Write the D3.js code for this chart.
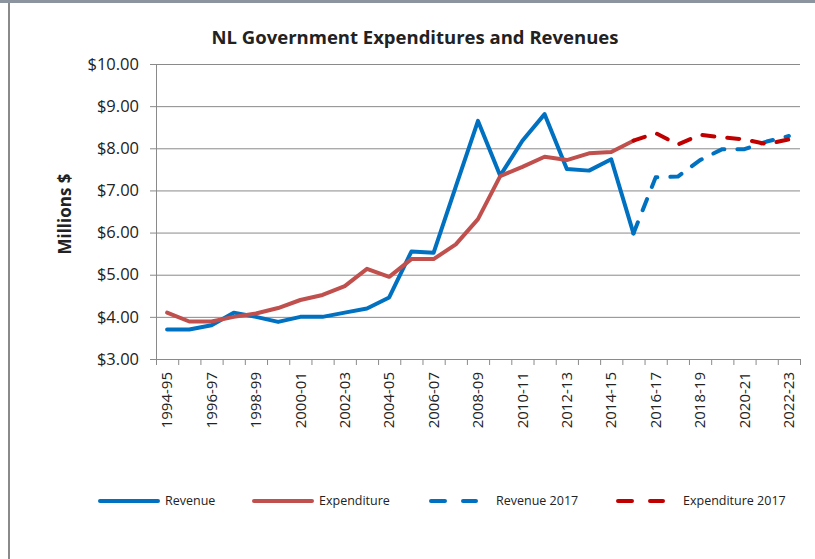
<!DOCTYPE html>
<html>
<head>
<meta charset="utf-8">
<script src="https://cdn.jsdelivr.net/npm/d3@7"></script>
<style>
  body { margin: 0; background: #fff; }
  text { font-family: "Open Sans", "Liberation Sans", sans-serif; fill: #222; }
</style>
</head>
<body>
<div class="canvas"></div>
<script>
// data
const years = ['1994-95', '1995-96', '1996-97', '1997-98', '1998-99', '1999-00', '2000-01', '2001-02',
  '2002-03', '2003-04', '2004-05', '2005-06', '2006-07', '2007-08', '2008-09', '2009-10', '2010-11',
  '2011-12', '2012-13', '2013-14', '2014-15', '2015-16', '2016-17', '2017-18', '2018-19', '2019-20',
  '2020-21', '2021-22', '2022-23'];
const revenue = [3.70, 3.70, 3.80, 4.10, 4.00, 3.88, 4.00, 4.00, 4.10, 4.20, 4.46, 5.55, 5.52, 7.09,
  8.65, 7.35, 8.18, 8.81, 7.51, 7.47, 7.74, 5.98];
const expenditure = [4.10, 3.89, 3.89, 4.00, 4.08, 4.21, 4.40, 4.52, 4.73, 5.14, 4.95, 5.37, 5.37, 5.72,
  6.32, 7.34, 7.56, 7.80, 7.72, 7.88, 7.91, 8.18];
// 2017 forecasts start at 2015-16
const revenue2017 = [5.98, 7.31, 7.33, 7.72, 7.98, 7.98, 8.16, 8.29];
const expenditure2017 = [8.18, 8.36, 8.09, 8.32, 8.26, 8.21, 8.10, 8.21];
const yTicks = [3, 4, 5, 6, 7, 8, 9, 10];

const svgDims = { width: 815, height: 559 };
const plot = { left: 156, right: 800, top: 64, bottom: 359 };

const svg = d3.select('.canvas')
    .append('svg')
    .attr('width', svgDims.width)
    .attr('height', svgDims.height);

// frame bits from the screenshot
svg.append('rect').attr('x', 0).attr('y', 0).attr('width', 815).attr('height', 3).attr('fill', '#8c959f');
svg.append('rect').attr('x', 8).attr('y', 3).attr('width', 2).attr('height', 556).attr('fill', '#8a8a8a');

const x = d3.scaleBand()
    .domain(years)
    .range([plot.left, plot.right]);
const xIdx = d3.scaleLinear()
    .domain([0, years.length])
    .range([plot.left, plot.right]);
const y = d3.scaleLinear()
    .domain([3, 10])
    .range([plot.bottom, plot.top]);
const cx = d => x(d) + x.bandwidth() / 2;

// gridlines + y axis
const yAxisGroup = svg.append('g')
    .attr('transform', `translate(${plot.left}, 0)`)
    .call(d3.axisLeft(y).tickValues(yTicks).tickFormat(d3.format('$.2f')).tickSize(6).tickPadding(11));
yAxisGroup.selectAll('text').style('font-size', '16.5px').attr('fill', '#222');
yAxisGroup.selectAll('line, path').attr('stroke', '#8a8a8a');

svg.append('g')
    .attr('transform', `translate(${plot.left}, 0)`)
    .call(d3.axisLeft(y).tickValues(yTicks.slice(1)).tickFormat('').tickSize(-(plot.right - plot.left)))
    .call(g => g.select('.domain').remove())
    .selectAll('line').attr('stroke', '#8a8a8a');

// x axis: tick marks between categories, labels every second year
const xTickGroup = svg.append('g')
    .attr('transform', `translate(0, ${plot.bottom})`)
    .call(d3.axisBottom(xIdx).tickValues(d3.range(years.length + 1)).tickFormat('').tickSize(6).tickSizeOuter(0));
xTickGroup.selectAll('line, path').attr('stroke', '#8a8a8a');

const xLabelGroup = svg.append('g')
    .attr('transform', `translate(0, ${plot.bottom})`)
    .call(d3.axisBottom(x).tickValues(years.filter((d, i) => i % 2 === 0)).tickSize(0));
xLabelGroup.select('.domain').remove();
xLabelGroup.selectAll('text')
    .style('font-size', '15px')
    .attr('fill', '#222')
    .attr('transform', 'rotate(-90)')
    .attr('text-anchor', 'end')
    .attr('x', -13)
    .attr('y', 0)
    .attr('dy', '0.35em');

// lines
const line = d3.line()
    .x(d => cx(d.year))
    .y(d => y(d.value));
const toPoints = (vals, start) => vals.map((v, i) => ({ year: years[start + i], value: v }));

const series = [
  { name: 'Revenue', data: toPoints(revenue, 0), color: '#0070c0', dash: null },
  { name: 'Expenditure', data: toPoints(expenditure, 0), color: '#c0504d', dash: null },
  { name: 'Revenue 2017', data: toPoints(revenue2017, 21), color: '#0070c0', dash: '12,13' },
  { name: 'Expenditure 2017', data: toPoints(expenditure2017, 21), color: '#c00000', dash: '12,13' }
];

series.forEach(s => {
  svg.append('path')
      .datum(s.data)
      .attr('fill', 'none')
      .attr('stroke', s.color)
      .attr('stroke-width', 4)
      .attr('stroke-linejoin', 'round')
      .attr('stroke-linecap', 'round')
      .attr('stroke-dasharray', s.dash)
      .attr('d', line);
});

// title and axis title
svg.append('text')
    .attr('x', 415).attr('y', 44)
    .attr('text-anchor', 'middle')
    .style('font-size', '18.5px').style('font-weight', 'bold')
    .text('NL Government Expenditures and Revenues');

svg.append('text')
    .attr('transform', 'translate(71, 214) rotate(-90)')
    .attr('text-anchor', 'middle')
    .style('font-size', '17px').style('font-weight', 'bold')
    .text('Millions $');

// legend
const legendX = [98, 252, 429, 616];
const legend = svg.append('g');
series.forEach((s, i) => {
  const g = legend.append('g').attr('transform', `translate(${legendX[i]}, 501)`);
  g.append('line')
      .attr('x1', 2).attr('x2', s.dash ? 47 : 60)
      .attr('stroke', s.color).attr('stroke-width', 4)
      .attr('stroke-linecap', 'round')
      .attr('stroke-dasharray', s.dash ? '14,18' : null);
  g.append('text')
      .attr('x', 67).attr('dy', '0.35em')
      .style('font-size', '12.5px')
      .text(s.name);
});
</script>
</body>
</html>
